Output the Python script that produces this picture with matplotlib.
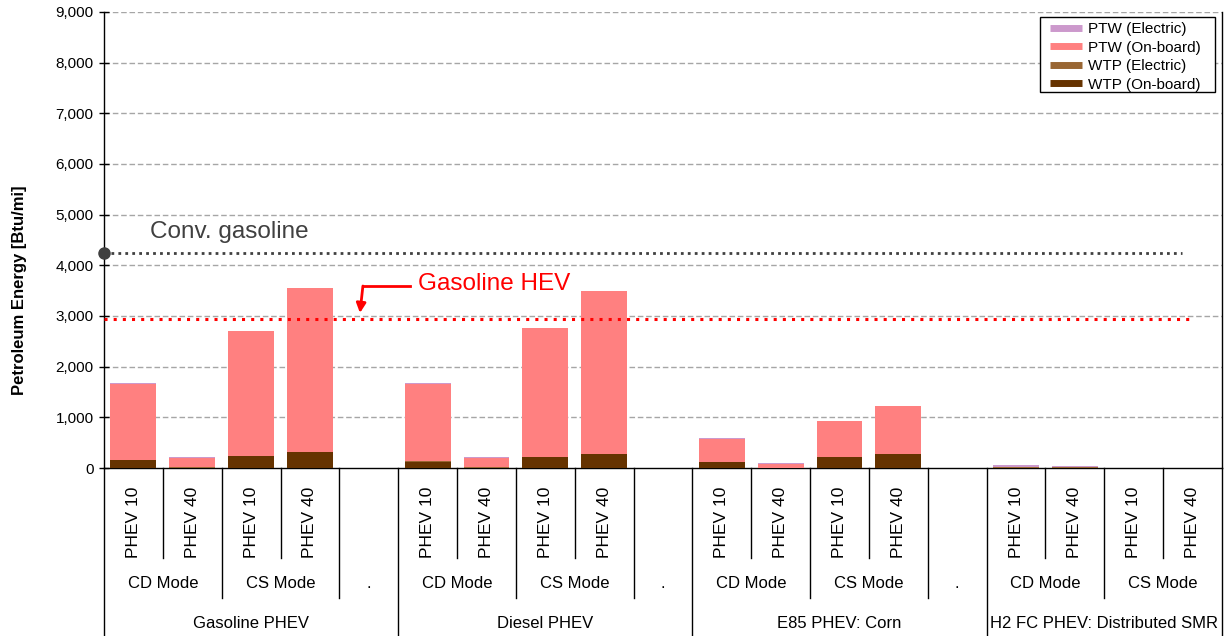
import matplotlib
matplotlib.use("Agg")
import matplotlib.pyplot as plt
from matplotlib.lines import Line2D
from matplotlib.patches import Rectangle
from matplotlib.ticker import FuncFormatter
import numpy as np

plt.rcParams['font.family'] = ['Liberation Sans', 'DejaVu Sans']

# ---- data ----
groups = ["Gasoline PHEV", "Diesel PHEV", "E85 PHEV: Corn", "H2 FC PHEV: Distributed SMR"]
group_sizes = [5, 5, 5, 4]
modes = ["CD Mode", "CS Mode", ".", "CD Mode", "CS Mode", ".", "CD Mode", "CS Mode", ".", "CD Mode", "CS Mode"]
mode_sizes = [2, 2, 1, 2, 2, 1, 2, 2, 1, 2, 2]
slot_labels = ["PHEV 10", "PHEV 40", "PHEV 10", "PHEV 40", "",
               "PHEV 10", "PHEV 40", "PHEV 10", "PHEV 40", "",
               "PHEV 10", "PHEV 40", "PHEV 10", "PHEV 40", "",
               "PHEV 10", "PHEV 40", "PHEV 10", "PHEV 40"]

wtp_onboard  = [150, 5, 240, 320, 0,  120, 5, 215, 275, 0,  118, 3, 217, 270, 0,  0, 0, 0, 0]
wtp_electric = [10, 5, 0, 0, 0,        10, 5, 0, 0, 0,        10, 5, 0, 0, 0,        20, 18, 5, 5]
ptw_onboard  = [1490, 190, 2465, 3230, 0, 1520, 195, 2545, 3215, 0, 440, 67, 703, 955, 0, 0, 0, 0, 0]
ptw_electric = [30, 15, 0, 0, 0,       30, 15, 0, 0, 0,       25, 25, 0, 0, 0,       30, 25, 0, 0]

conv_gasoline = 4240
gasoline_hev = 2940

series_names = ["PTW (Electric)", "PTW (On-board)", "WTP (Electric)", "WTP (On-board)"]
colors = {"PTW (Electric)": "#CC99CC", "PTW (On-board)": "#FF8080",
          "WTP (Electric)": "#996633", "WTP (On-board)": "#663300"}

# ---- figure ----
W, H = 1230, 636
fig = plt.figure(figsize=(W / 100, H / 100), dpi=100)
L, R, T, B = 104, 1222, 12, 468
ax = fig.add_axes([L / W, 1 - B / H, (R - L) / W, (B - T) / H])

n = len(slot_labels)
x = np.arange(n)
bw = 0.78
bottom = np.zeros(n)
for name, vals in [("WTP (On-board)", wtp_onboard), ("WTP (Electric)", wtp_electric),
                   ("PTW (On-board)", ptw_onboard), ("PTW (Electric)", ptw_electric)]:
    v = np.array(vals, dtype=float)
    ax.bar(x, v, bw, bottom=bottom, color=colors[name], linewidth=0, zorder=3)
    bottom += v

ax.set_xlim(-0.5, n - 0.5)
ax.set_ylim(0, 9000)
ax.set_yticks(np.arange(0, 9001, 1000))
ax.yaxis.set_major_formatter(FuncFormatter(lambda v, p: f"{int(v):,}"))
ax.tick_params(axis='y', direction='inout', length=7, width=1, labelsize=11, pad=4)
ax.set_xticks([])
for yv in range(1000, 9001, 1000):
    ax.axhline(yv, color="#A6A6A6", lw=1, ls=(0, (4, 2)), zorder=1)

ax.spines['top'].set_visible(False)
for s in ['left', 'right', 'bottom']:
    ax.spines[s].set_color('black')
    ax.spines[s].set_linewidth(1)

fig.text(20 / W, 1 - 290 / H, "Petroleum Energy [Btu/mi]", fontsize=12, fontweight='bold',
         rotation=90, ha='center', va='center')

# reference lines
ax.axhline(conv_gasoline, xmin=0, xmax=0.964, color="#404040", lw=2, ls=(0, (1, 1.5)), zorder=4)
ax.plot([-0.5], [conv_gasoline], 'o', color="#404040", ms=8, clip_on=False, zorder=5)
ax.axhline(gasoline_hev, xmin=0, xmax=0.972, color="#FF0000", lw=2.2, ls=(0, (1, 2)), zorder=4)

ax.text(0.28, 4660, "Conv. gasoline", fontsize=17.5, color="#404040", va='center', ha='left')
ax.text(4.83, 3630, "Gasoline HEV", fontsize=17.5, color="#FF0000", va='center', ha='left')
ax.plot([4.70, 3.90], [3592, 3592], color="#FF0000", lw=2, zorder=5)
ax.annotate("", xy=(3.85, 3060), xytext=(3.90, 3592),
            arrowprops=dict(arrowstyle='-|>', color="#FF0000", lw=2, mutation_scale=14,
                            shrinkA=0, shrinkB=0), zorder=5)

# ---- category table below axis ----
tr = ax.get_xaxis_transform()
ah = B - T
def ay(py):
    return (B - py) / ah

y1 = ay(558)
y2 = ay(598)
y3 = ay(H)

for i, lab in enumerate(slot_labels):
    if lab:
        ax.text(i, ay(522), lab, transform=tr, rotation=90, ha='center', va='center',
                fontsize=12.5, clip_on=False)
pos = 0
mode_bounds = []
for m, s in zip(modes, mode_sizes):
    ax.text(pos + s / 2 - 0.5, ay(584), m, transform=tr, ha='center', va='center',
            fontsize=12, clip_on=False)
    pos += s
    mode_bounds.append(pos)
pos = 0
group_bounds = []
for g, s in zip(groups, group_sizes):
    ax.text(pos + s / 2 - 0.5, ay(623), g, transform=tr, ha='center', va='center',
            fontsize=12, clip_on=False)
    pos += s
    group_bounds.append(pos)

for b in range(0, n + 1):
    if b in (0, n) or b in group_bounds:
        yb = y3
    elif b in mode_bounds:
        yb = y2
    else:
        yb = y1
    ax.plot([b - 0.5, b - 0.5], [0, yb], transform=tr, color='black', lw=1, clip_on=False)

# legend with a manually drawn frame
frame = Rectangle((1040 / W, 1 - 92 / H), 175 / W, 75 / H, transform=fig.transFigure,
                  facecolor='white', edgecolor='black', lw=1, zorder=6, clip_on=False)
ax.add_patch(frame)
handles = [Line2D([0], [0], color=colors[nm], lw=5, solid_capstyle='butt') for nm in series_names]
leg = ax.legend(handles, series_names, loc='upper left', bbox_to_anchor=(1050 / W, 1 - 22 / H),
                bbox_transform=fig.transFigure, fontsize=11, frameon=False,
                handlelength=2.1, handletextpad=0.4, borderpad=0, labelspacing=0.3,
                borderaxespad=0)
leg.set_zorder(7)

fig.savefig("out.png", dpi=100)
